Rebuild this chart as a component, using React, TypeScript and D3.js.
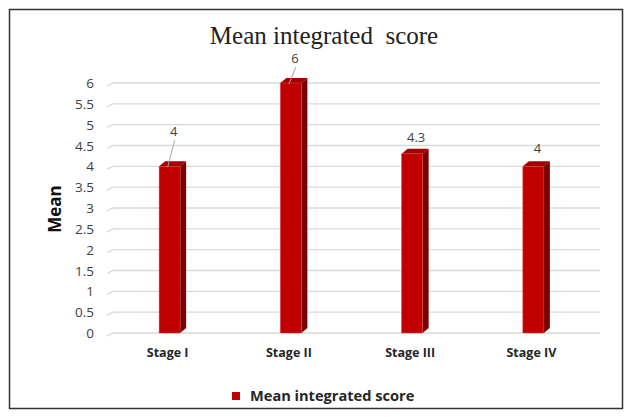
import React from "react";
import * as d3 from "d3";

const categories = ["Stage I", "Stage II", "Stage III", "Stage IV"];
const values = [4, 6, 4.3, 4];
const valueLabels = ["4", "6", "4.3", "4"];
const yTicks = [0, 0.5, 1, 1.5, 2, 2.5, 3, 3.5, 4, 4.5, 5, 5.5, 6];
const seriesName = "Mean integrated score";
const title = "Mean integrated  score";
const yTitle = "Mean";

const W = 633, H = 417;

export default function App() {
  const x = d3.scaleBand<string>().domain(categories).range([112, 597]);
  const y = d3.scaleLinear().domain([0, 6]).range([333, 83]);
  const bw = 21, dx = 6, dy = 5;
  const sans = "'Open Sans', 'Liberation Sans', sans-serif";
  const labelOffset = [30, 20, 12, 13];
  return (
    <svg width={W} height={H} style={{ position: "absolute", left: 0, top: 0 }}>
      <rect x={0} y={0} width={W} height={H} fill="#fff" />
      <rect x={9.5} y={9.5} width={613} height={399} fill="none" stroke="#333" strokeWidth={1.5} />
      <text x={324} y={44} textAnchor="middle" fontFamily="'Liberation Serif', 'Times New Roman', serif" fontSize={25} fill="#222" style={{ whiteSpace: "pre" }}>{title}</text>
      {yTicks.map((t) => (
        <g key={t}>
          <path d={`M${107},${y(t) + 3}L${113},${y(t)}H${600}`} fill="none" stroke="#d9d9d9" strokeWidth={1.3} />
          <text x={94} y={y(t) + 5} textAnchor="end" fontFamily={sans} fontSize={13.5} fill="#404040">{t}</text>
        </g>
      ))}
      <text transform={`translate(61,209) rotate(-90)`} textAnchor="middle" fontFamily={sans} fontWeight="bold" fontSize={17} fill="#111">{yTitle}</text>
      {categories.map((c, i) => {
        const cx = x(c)! + x.bandwidth() / 2 - 3;
        const x0 = cx - bw / 2, x1 = x0 + bw;
        const yt = y(values[i]), yb = y(0);
        return (
          <g key={c}>
            <path d={`M${x1},${yt}L${x1 + dx},${yt - dy}V${yb - dy}L${x1},${yb}Z`} fill="#7a0000" />
            <path d={`M${x0},${yt}L${x0 + dx},${yt - dy}H${x1 + dx}L${x1},${yt}Z`} fill="#a30000" />
            <rect x={x0} y={yt} width={bw} height={yb - yt} fill="#c00000" stroke="#e04040" strokeWidth={0.5} />
            <text x={cx + 4} y={yt - labelOffset[i]} textAnchor="middle" fontFamily={sans} fontSize={13} fill="#404040">{valueLabels[i]}</text>
            {(i === 0 || i === 1) && (
              <line x1={cx - 2} y1={yt + 1} x2={cx + 5} y2={yt - labelOffset[i] + 4} stroke="#a6a6a6" strokeWidth={1} />
            )}
            <text x={cx - 2} y={357} textAnchor="middle" fontFamily={sans} fontWeight="bold" fontSize={12.5} fill="#262626">{c}</text>
          </g>
        );
      })}
      <rect x={232} y={392} width={8} height={8} fill="#c00000" />
      <text x={250} y={401} fontFamily={sans} fontWeight="bold" fontSize={14.6} fill="#262626">{seriesName}</text>
    </svg>
  );
}
